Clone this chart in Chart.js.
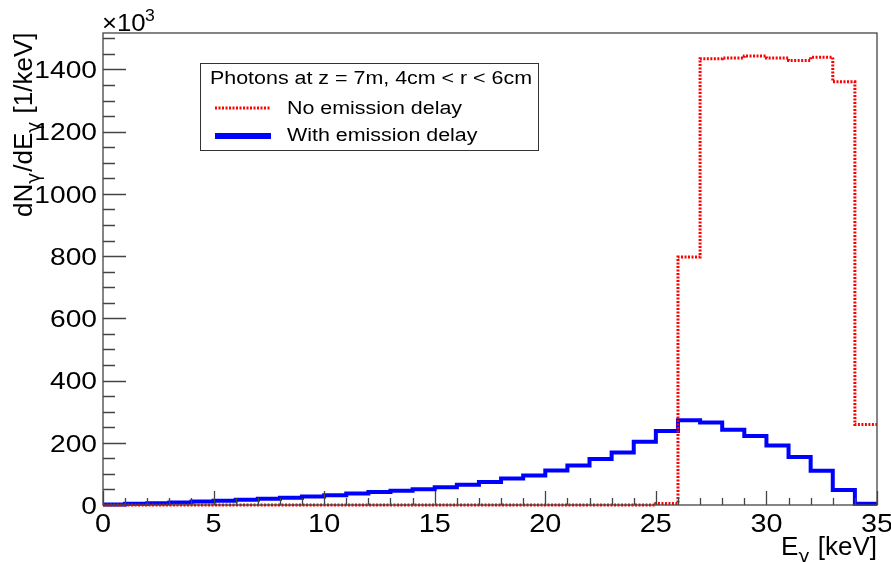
<!DOCTYPE html>
<html><head><meta charset="utf-8">
<script src="https://cdn.jsdelivr.net/npm/chart.js@4/dist/chart.umd.min.js"></script>
<style>html,body{margin:0;padding:0;background:#fff}#wrap{width:891px;height:562px}</style>
</head><body><div id="wrap"><canvas id="c" width="891" height="562"></canvas></div>
<script>
// ---- data (x1000 photons per keV) ----
const binEdges = [0,1,2,3,4,5,6,7,8,9,10,11,12,13,14,15,16,17,18,19,20,21,22,23,24,25,26,27,28,29,30,31,32,33,34,35];
const noDelay = [0,0,0,0,0,0,0,0,0,0,0,0,0,0,0,0,0,0,0,0,0,0,0,0,0,5,797,1434,1437,1443,1437,1429,1439,1360,259];
const withDelay = [2,4,6,8,11,14,17,20,23,27,31,37,42,46,51,57,65,74,85,95,111,127,148,169,203,238,272,265,242,222,191,154,110,48,4];
const xTickLabels = [0,5,10,15,20,25,30,35];
const yTickLabels = [0,200,400,600,800,1000,1200,1400];
const seriesNames = ['No emission delay','With emission delay'];
const legendHeader = 'Photons at z = 7m, 4cm < r < 6cm';

function histPoints(vals){
  const pts = vals.map((v,i)=>({x:binEdges[i], y:v}));
  pts.push({x:binEdges[vals.length], y:vals[vals.length-1]});
  return pts;
}

const FONT = '"Liberation Sans", Arial, Helvetica, sans-serif';
const GFONT = '"DejaVu Sans", "Noto Sans", sans-serif';
function txt(ctx, s, x, y, size, align, sx){
  ctx.save();
  ctx.font = size + 'px ' + FONT;
  ctx.translate(x, y);
  ctx.scale(sx, 1);
  ctx.textAlign = align || 'left';
  ctx.textBaseline = 'alphabetic';
  ctx.fillStyle = '#000';
  ctx.fillText(s, 0, 0);
  ctx.restore();
}
// draws runs of [text, isSub] starting at 0,0 in current ctx; returns width
function runs(ctx, parts, size, measureOnly){
  let x = 0;
  for (const [s, sub] of parts){
    const fs = sub ? size*0.72 : size;
    ctx.font = fs + 'px ' + (sub ? GFONT : FONT);
    if (!measureOnly) ctx.fillText(s, x, sub ? size*0.3 : 0);
    x += ctx.measureText(s).width + (sub ? 1 : 0);
  }
  return x;
}

const decor = {
  id: 'rootDecor',
  afterDatasetsDraw(chart){
    const ctx = chart.ctx, a = chart.chartArea;
    const xs = chart.scales.x, ys = chart.scales.y;
    ctx.save();
    ctx.strokeStyle = '#444';
    ctx.lineWidth = 1.3;
    ctx.strokeRect(a.left, a.top, a.right - a.left, a.bottom - a.top);
    ctx.beginPath();
    for (let v = xs.min; v <= xs.max + 1e-9; v += 1){
      const px = Math.round(xs.getPixelForValue(v)) + 0.5;
      const len = (v % 5 === 0) ? 14 : 7;
      ctx.moveTo(px, a.bottom); ctx.lineTo(px, a.bottom - len);
    }
    for (let v = 0; v <= ys.max + 1e-9; v += 50){
      const py = Math.round(ys.getPixelForValue(v)) + 0.5;
      const len = (v % 200 === 0) ? 23 : 12;
      ctx.moveTo(a.left, py); ctx.lineTo(a.left + len, py);
    }
    ctx.stroke();
    ctx.restore();

    for (const v of xTickLabels){
      txt(ctx, String(v), xs.getPixelForValue(v), 532, 25.5, 'center', 1.13);
    }
    for (const v of yTickLabels){
      txt(ctx, String(v), 97, ys.getPixelForValue(v) + 8.8, 24.5, 'right', 1.15);
    }
    txt(ctx, '\u00d710', 102, 31, 23, 'left', 1.12);
    txt(ctx, '3', 145, 20.5, 16, 'left', 1.1);

    // y axis title
    ctx.save();
    ctx.fillStyle = '#000';
    ctx.textBaseline = 'alphabetic';
    ctx.translate(32, 217);
    ctx.rotate(-Math.PI/2);
    runs(ctx, [['dN',0],['\u03b3',1],['/dE',0],['\u03b3',1],[' [1/keV]',0]], 26);
    ctx.restore();

    // x axis title
    ctx.save();
    ctx.fillStyle = '#000';
    ctx.textBaseline = 'alphabetic';
    const xparts = [['E',0],['\u03b3',1],[' [keV]',0]];
    const w = runs(ctx, xparts, 26, true);
    ctx.translate(877 - w, 555);
    runs(ctx, xparts, 26);
    ctx.restore();

    // legend
    ctx.save();
    ctx.fillStyle = '#fff';
    ctx.fillRect(200, 63, 338, 87);
    ctx.strokeStyle = '#333';
    ctx.lineWidth = 1;
    ctx.strokeRect(200.5, 63.5, 338, 87);
    ctx.restore();
    txt(ctx, legendHeader, 210, 83.5, 18, 'left', 1.19);
    const ds = chart.data.datasets;
    const rowsY = [108, 136], textY = [113.5, 141];
    for (let i = 0; i < ds.length; i++){
      ctx.save();
      ctx.strokeStyle = ds[i].borderColor;
      ctx.lineWidth = ds[i].legendWidth;
      ctx.setLineDash(ds[i].borderDash || []);
      ctx.beginPath();
      ctx.moveTo(215, rowsY[i]); ctx.lineTo(271, rowsY[i]);
      ctx.stroke();
      ctx.restore();
      txt(ctx, seriesNames[i], 287, textY[i], 18, 'left', 1.19);
    }
  }
};

new Chart(document.getElementById('c'), {
  type: 'line',
  data: {
    datasets: [
      { label: seriesNames[0], data: histPoints(noDelay), borderColor: '#ff0000', borderWidth: 3,
        borderDash: [2, 1.5], stepped: true, pointRadius: 0, fill: false, clip: 6, legendWidth: 3, order: 0 },
      { label: seriesNames[1], data: histPoints(withDelay), borderColor: '#0000ff', borderWidth: 4,
        stepped: true, pointRadius: 0, fill: false, clip: 6, legendWidth: 6, order: 1 }
    ]
  },
  options: {
    responsive: false, animation: false, devicePixelRatio: 1,
    layout: { padding: { left: 103, right: 14, top: 33, bottom: 57 } },
    plugins: { legend: { display: false }, tooltip: { enabled: false } },
    scales: {
      x: { type: 'linear', min: 0, max: 35, display: false },
      y: { type: 'linear', min: 0, max: 1517, display: false }
    }
  },
  plugins: [decor]
});
</script>
</body></html>
